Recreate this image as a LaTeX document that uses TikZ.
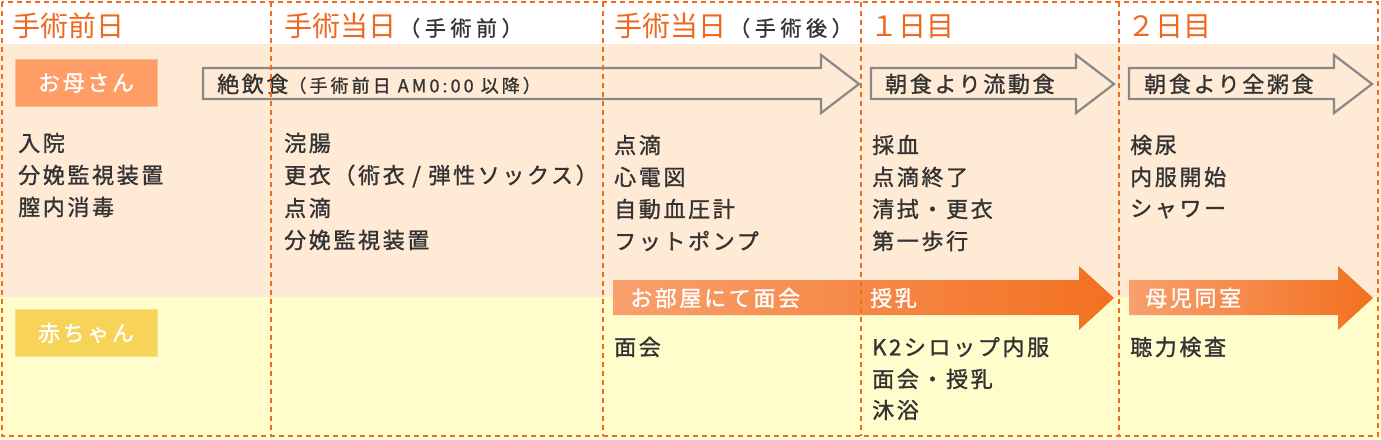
\documentclass[tikz,border=0pt]{standalone}
\usepackage{fontspec}
\setmainfont{Noto Sans CJK JP}
\newfontfamily\jpbody{Noto Sans CJK JP}[LetterSpace=12,FakeBold=1.2]
\newfontfamily\jpsmall{Noto Sans CJK JP}[LetterSpace=17,FakeBold=1.0]
\newfontfamily\jpparen{Noto Sans CJK JP}[LetterSpace=22,FakeBold=1.0]
\newfontfamily\jphead{Noto Sans CJK JP}
\definecolor{dashc}{RGB}{242,106,27}
\definecolor{headc}{RGB}{240,104,30}
\definecolor{peach}{RGB}{255,234,213}
\definecolor{ylw}{RGB}{255,253,204}
\definecolor{momc}{RGB}{255,157,102}
\definecolor{babyc}{RGB}{247,212,88}
\definecolor{greyarr}{RGB}{136,136,136}
\definecolor{orL}{RGB}{248,160,110}
\definecolor{orR}{RGB}{243,112,32}
\definecolor{txt}{RGB}{51,51,51}
\begin{document}
\begin{tikzpicture}[x=1pt,y=-1pt,
  bodytxt/.style={anchor=west, inner sep=0pt, text=txt, font=\jpbody\fontsize{22}{26}\selectfont},
  whitetxt/.style={anchor=west, inner sep=0pt, text=white, font=\jpbody\fontsize{22}{26}\selectfont},
  headtxt/.style={anchor=base west, inner sep=0pt, text=headc, font=\jphead\fontsize{28}{32}\selectfont},
  labelbox/.style={minimum width=142pt, minimum height=47pt, inner sep=0pt, text=white, font=\jpbody\fontsize{22}{26}\selectfont},
  dashline/.style={draw=dashc, line width=1.8pt, dash pattern=on 5pt off 4pt},
  greyarrow/.style={draw=greyarr, line width=2.2pt, line join=miter},
  orarrow/.style={left color=orL, right color=orR}
]
\useasboundingbox (0,0) rectangle (1381,439);
% backgrounds
\fill[white] (0,0) rectangle (1381,44);
\fill[peach] (0,44) rectangle (1381,297);
\fill[ylw] (0,297) rectangle (1381,439);

% headers
\node[headtxt] (h1) at (12,36) {手術前日};
\node[headtxt] (h2) at (284,36) {手術当日\hspace{3pt}{\color{txt}\jpparen\fontsize{21}{24}\selectfont （手術前）}};
\node[headtxt] (h3) at (614,36) {手術当日\hspace{3pt}{\color{txt}\jpparen\fontsize{21}{24}\selectfont （手術後）}};
\node[headtxt] (h4) at (870,36) {１日目};
\node[headtxt] (h5) at (1127,36) {２日目};

% row labels
\node[labelbox, fill=momc, draw=momc!70!white, line width=0.8pt] (mom) at (86,83) {お母さん};
\node[labelbox, fill=babyc, draw=babyc!70!white, line width=0.8pt] (baby) at (86,333) {赤ちゃん};

% grey arrows
\draw[greyarrow] (203,68) -- (821,68) -- (821,55) -- (859,84) -- (821,113) -- (821,99) -- (203,99) -- cycle;
\draw[greyarrow] (871,68) -- (1076,68) -- (1076,55) -- (1114,84) -- (1076,113) -- (1076,99) -- (871,99) -- cycle;
\draw[greyarrow] (1129,68) -- (1334,68) -- (1334,55) -- (1372,84) -- (1334,113) -- (1334,99) -- (1129,99) -- cycle;
\node[bodytxt] (g1) at (217,84) {絶飲食{\jpsmall\fontsize{18}{22}\selectfont （手術前日 AM0:00 以降）}};
\node[bodytxt] (g2) at (885,84) {朝食より流動食};
\node[bodytxt] (g3) at (1144,84) {朝食より全粥食};

% orange arrows
\shade[orarrow] (613,280) -- (1079,280) -- (1079,266) -- (1114,298) -- (1079,330) -- (1079,315) -- (613,315) -- cycle;
\shade[orarrow] (1129,280) -- (1338,280) -- (1338,266) -- (1373,298) -- (1338,330) -- (1338,315) -- (1129,315) -- cycle;
\node[whitetxt] (o1) at (630,298) {お部屋にて面会};
\node[whitetxt] (o2) at (870,298) {授乳};
\node[whitetxt] (o3) at (1145,298) {母児同室};

% column 1
\node[bodytxt] (a1) at (18,143) {入院};
\node[bodytxt] (a2) at (18,175) {分娩監視装置};
\node[bodytxt] (a3) at (18,207) {膣内消毒};
% column 2
\node[bodytxt] (b1) at (284,143) {浣腸};
\node[bodytxt] (b2) at (284,176) {更衣（術衣 / 弾性ソックス）};
\node[bodytxt] (b3) at (284,208) {点滴};
\node[bodytxt] (b4) at (284,240) {分娩監視装置};
% column 3
\node[bodytxt] (c1) at (614,145) {点滴};
\node[bodytxt] (c2) at (614,177) {心電図};
\node[bodytxt] (c3) at (614,209) {自動血圧計};
\node[bodytxt] (c4) at (614,241) {フットポンプ};
% column 4
\node[bodytxt] (d1) at (872,145) {採血};
\node[bodytxt] (d2) at (872,177) {点滴終了};
\node[bodytxt] (d3) at (872,209) {清拭・更衣};
\node[bodytxt] (d4) at (872,241) {第一歩行};
% column 5
\node[bodytxt] (e1) at (1130,145) {検尿};
\node[bodytxt] (e2) at (1130,177) {内服開始};
\node[bodytxt] (e3) at (1130,209) {シャワー};
% baby row
\node[bodytxt] (f1) at (614,347) {面会};
\node[bodytxt] (f2) at (872,347) {K2シロップ内服};
\node[bodytxt] (f3) at (872,379) {面会・授乳};
\node[bodytxt] (f4) at (872,410) {沐浴};
\node[bodytxt] (f5) at (1130,347) {聴力検査};

% dashed grid
\draw[dashline] (2,2) rectangle (1378,436);
\draw[dashline] (271,2) -- (271,436);
\draw[dashline] (603,2) -- (603,436);
\draw[dashline] (861,2) -- (861,436);
\draw[dashline] (1119,2) -- (1119,436);
\end{tikzpicture}
\end{document}
